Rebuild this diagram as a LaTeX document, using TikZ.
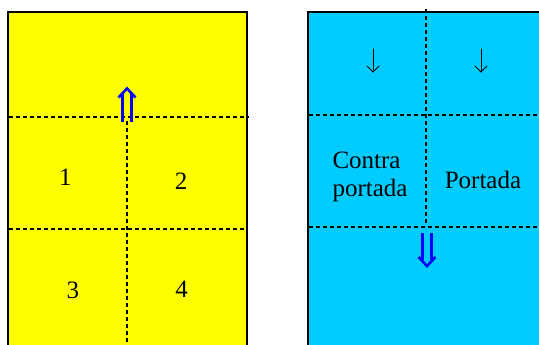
\documentclass[tikz,border=0pt]{standalone}
\usepackage{fontspec}
\setmainfont{Liberation Serif}
\definecolor{pageyellow}{HTML}{FFFF00}
\definecolor{pagecyan}{HTML}{00CCFF}
\definecolor{arrowblue}{HTML}{0000FF}
\begin{document}
\begin{tikzpicture}[x=1pt,y=-1pt,
  page/.style={draw=black,line width=1.5pt},
  fold/.style={draw=black,line width=2.4pt,dash pattern=on 4pt off 3pt},
  lbl/.style={font=\fontsize{25}{28}\selectfont,inner sep=0pt},
  bigarrow/.style={draw=arrowblue,line width=2.6pt,line join=miter,line cap=butt},
  thinarrow/.style={draw=black,line width=1pt,line cap=round,line join=round}]
\useasboundingbox (0,0) rectangle (539,345);
\fill[white] (0,0) rectangle (539,345);
% left page
\fill[pageyellow] (8,12) rectangle (247,360);
\draw[page] (8,360) -- (8,12) -- (247,12) -- (247,360);
\coordinate (lh1a) at (9,117); \coordinate (lh1b) at (249,117);
\coordinate (lh2a) at (9,229); \coordinate (lh2b) at (246,229);
\coordinate (lva) at (127,121); \coordinate (lvb) at (127,345);
\draw[fold] (lh1a) -- (lh1b);
\draw[fold] (lh2a) -- (lh2b);
\draw[fold] (lva) -- (lvb);
\node[lbl] (n1) at (65.5,177) {1};
\node[lbl] (n2) at (181,181) {2};
\node[lbl] (n3) at (73,290) {3};
\node[lbl] (n4) at (181.5,289) {4};
% blue up arrow
\draw[bigarrow] (122.5,122) -- (122.5,94);
\draw[bigarrow] (131.5,122) -- (131.5,94);
\draw[bigarrow] (118.5,97.5) -- (127,88.5) -- (135.5,97.5);
% right page
\fill[pagecyan] (308,12) rectangle (550,360);
\draw[page] (308,360) -- (308,12) -- (550,12);
\coordinate (rh1a) at (309,115); \coordinate (rh1b) at (539,115);
\coordinate (rh2a) at (309,227); \coordinate (rh2b) at (539,227);
\coordinate (rva) at (426,9); \coordinate (rvb) at (426,226);
\draw[fold] (rh1a) -- (rh1b);
\draw[fold] (rh2a) -- (rh2b);
\draw[fold] (rva) -- (rvb);
\node[lbl,align=left] (contra) at (370,177) {Contra\\portada};
\node[lbl] (portada) at (483,180) {Portada};
% thin down arrows
\draw[thinarrow] (373,49) -- (373,72);
\draw[thinarrow] (367,66) -- (373,72) -- (379,66);
\draw[thinarrow] (481,49) -- (481,72);
\draw[thinarrow] (475,66) -- (481,72) -- (487,66);
% blue down arrow
\draw[bigarrow] (422.5,233) -- (422.5,260);
\draw[bigarrow] (431.5,233) -- (431.5,260);
\draw[bigarrow] (418.5,257) -- (427,266) -- (435.5,257);
\end{tikzpicture}
\end{document}
